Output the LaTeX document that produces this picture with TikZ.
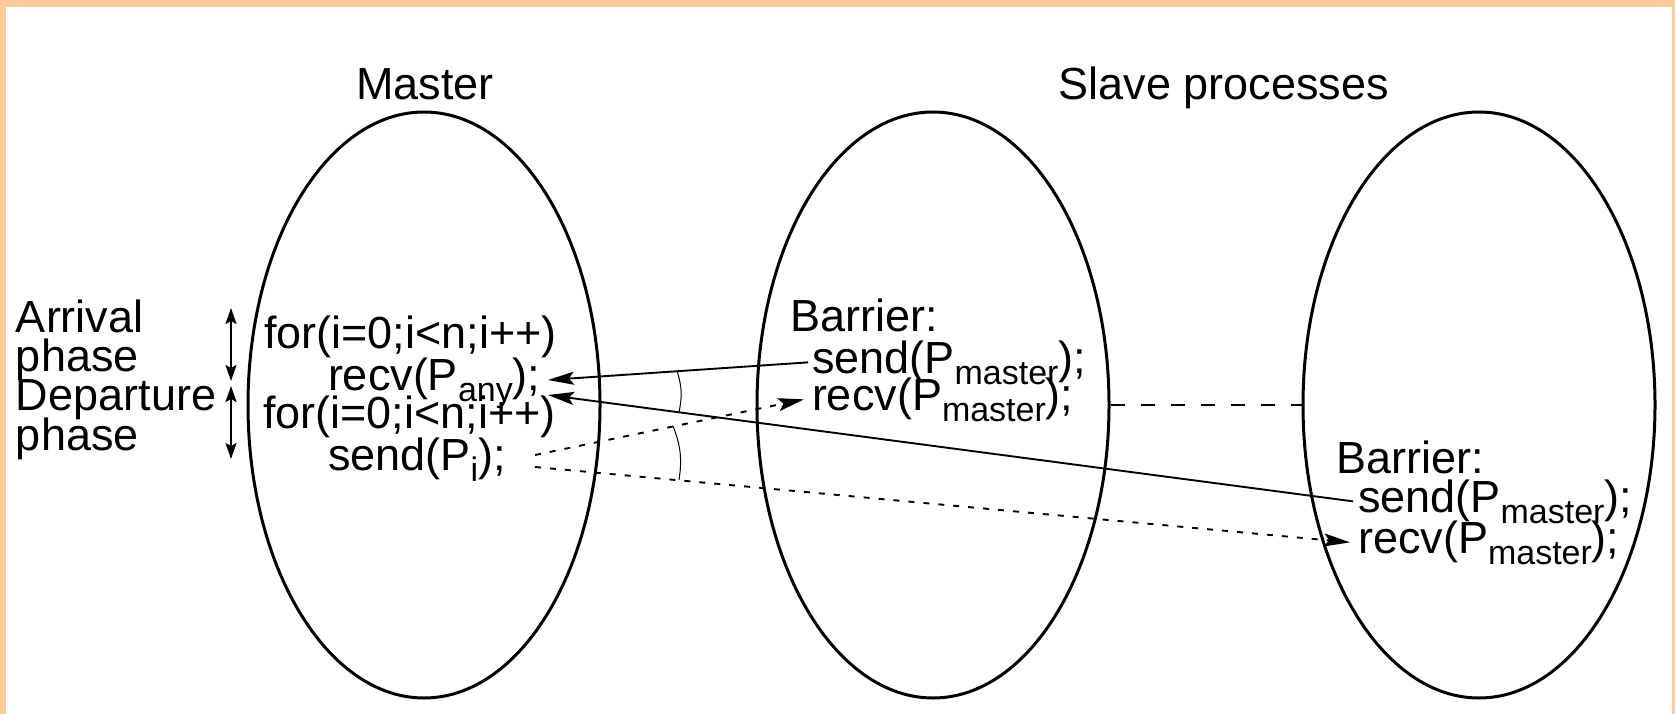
\documentclass[tikz,border=0pt]{standalone}
\usepackage{fontspec}
\setmainfont{Liberation Sans}
\usetikzlibrary{shapes.geometric,arrows.meta}
\definecolor{frameorange}{RGB}{255,204,153}
\newcommand{\subs}[1]{\raisebox{-11pt}{\fontsize{34}{34}\selectfont #1}}
\begin{document}
\begin{tikzpicture}[x=1pt,y=-1pt,
  txt/.style={inner sep=0pt, outer sep=0pt, anchor=base west, font=\fontsize{45}{41}\selectfont},
  proc/.style={draw, line width=3pt, ellipse, inner sep=0pt, minimum width=352pt, minimum height=586pt},
  msg/.style={line width=1.9pt, -{Stealth[length=26pt,width=13pt,inset=5pt]}},
  dmsg/.style={msg, dash pattern=on 6pt off 9pt},
  sync/.style={line width=1.9pt, dash pattern=on 14pt off 16pt},
  phasearrow/.style={line width=2pt, {Stealth[length=16pt,width=11pt,inset=3pt]}-{Stealth[length=16pt,width=11pt,inset=3pt]}},
  anglemark/.style={line width=1pt}
]
\useasboundingbox (0,0) rectangle (1675,714);
\fill[frameorange] (0,0) rectangle (1675,714);
\fill[white] (6,7) rectangle (1672,714);

% processes
\node[proc] (m) at (424,405) {};
\node[proc] (s1) at (933,405) {};
\node[proc] (s2) at (1479,405) {};

% titles
\node[txt, anchor=base] (mtitle) at (425,100) {Master};
\node[txt, anchor=base] (stitle) at (1224,100) {Slave processes};

% phase labels
\node[txt] (arr) at (16,332) {Arrival};
\node[txt] (ph1) at (16,371) {phase};
\node[txt] (dep) at (16,410) {Departure};
\node[txt] (ph2) at (16,450) {phase};
\coordinate (a1t) at (231,308);
\coordinate (a1b) at (231,381);
\coordinate (a2t) at (231,386);
\coordinate (a2b) at (231,459);
\draw[phasearrow] (a1t) -- (a1b);
\draw[phasearrow] (a2t) -- (a2b);

% master code
\node[txt] (mfor1) at (264,348) {for(i=0;i<n;i++)};
\node[txt] (mrecv) at (328,390) {recv(P\subs{any});};
\node[txt] (mfor2) at (263,428) {for(i=0;i<n;i++)};
\node[txt] (msend) at (328,470) {send(P\subs{i});};

% slave 1
\node[txt] (s1bar) at (790,331) {Barrier:};
\node[txt] (s1send) at (812,373) {send(P\subs{master});};
\node[txt] (s1recv) at (812,410) {recv(P\subs{master});};

% slave 2
\node[txt] (s2bar) at (1336,473) {Barrier:};
\node[txt] (s2send) at (1358,512) {send(P\subs{master});};
\node[txt] (s2recv) at (1358,553) {recv(P\subs{master});};

% message end points
\coordinate (tipA) at (548,380);
\coordinate (tipB) at (548,395);
\coordinate (mA) at (535,455);
\coordinate (mB) at (535,467);

\draw[msg] ([xshift=-4pt]s1send.west) -- (tipA);
\draw[msg] ([xshift=-5pt]s2send.west) -- (tipB);
\draw[dmsg] (mA) -- ([xshift=-8pt]s1recv.west);
\draw[dmsg] (mB) -- ([xshift=-8pt]s2recv.west);
\draw[sync] (s1.east) -- (s2.west);

% angle marks
\coordinate (u1) at (677,371);
\coordinate (u2) at (679,412);
\coordinate (l1) at (673,426);
\coordinate (l2) at (679,480);
\draw[anglemark] (u1) to[bend left=15] (u2);
\draw[anglemark] (l1) to[bend left=15] (l2);
\end{tikzpicture}
\end{document}
